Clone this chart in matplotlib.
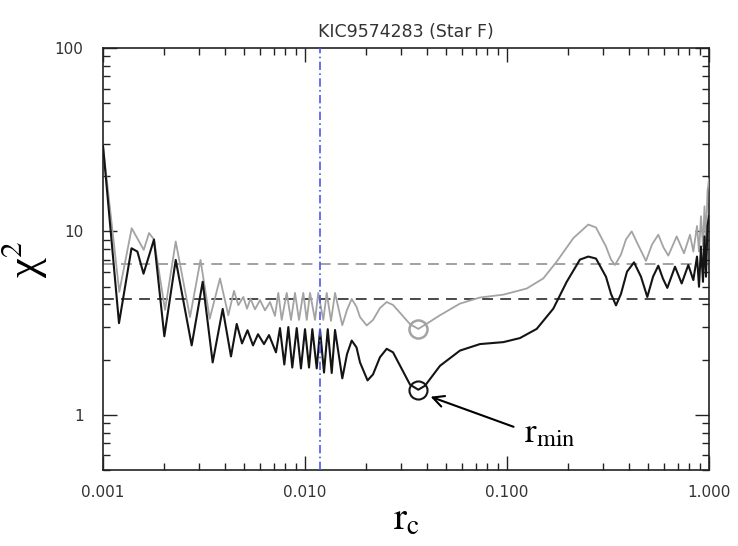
import matplotlib

matplotlib.use("Agg")

import matplotlib.pyplot as plt
import numpy as np
from matplotlib.ticker import FixedLocator, LogLocator, NullFormatter

# ---- values (r_c, chi^2) ----
TITLE = "KIC9574283 (Star F)"

black_r = [
    0.001, 0.00120, 0.001384, 0.00148, 0.001587, 0.001788, 0.002012, 0.002291,
    0.002748, 0.003115, 0.003491, 0.003914, 0.004301, 0.004592, 0.004877,
    0.005192, 0.005529, 0.005853, 0.006266, 0.006634, 0.007183,
    0.007518, 0.00790, 0.00827, 0.00865, 0.00910, 0.00955, 0.01000, 0.01047,
    0.01087, 0.01143, 0.01187, 0.01242, 0.01296, 0.01356, 0.01408, 0.01530,
    0.01614, 0.01703, 0.01799, 0.01872, 0.02040, 0.02171, 0.02350, 0.02538,
    0.02728, 0.0302, 0.03311, 0.03638, 0.03926, 0.04660, 0.05853, 0.07350,
    0.09587, 0.1159, 0.1403, 0.1695, 0.1975, 0.2297, 0.2527, 0.2758,
    0.3090, 0.3273, 0.3464, 0.3666, 0.3927, 0.4254, 0.4606, 0.4950,
    0.5283, 0.5610, 0.5918, 0.6218, 0.6788, 0.7324, 0.7898, 0.8363,
    0.8723, 0.8924, 0.9128, 0.9338, 0.9500, 0.9663, 0.9830, 1.0,
]
black_chi2 = [
    29.3, 3.16, 8.09, 7.76, 5.88, 9.03, 2.68, 6.99,
    2.39, 5.31, 1.93, 3.78, 2.08, 3.13, 2.45,
    2.89, 2.39, 2.75, 2.43, 2.72, 2.19,
    2.97, 1.88, 3.01, 1.81, 2.97, 1.79, 2.93, 1.81,
    2.93, 1.79, 2.90, 1.70, 2.93, 1.69, 2.90, 1.58,
    2.14, 2.54, 2.33, 1.93, 1.54, 1.66, 2.06, 2.29,
    2.19, 1.77, 1.46, 1.37, 1.44, 1.85, 2.24, 2.43,
    2.49, 2.62, 2.94, 3.79, 5.31, 7.02, 7.29, 7.11,
    5.66, 4.56, 3.95, 4.56, 6.03, 6.78, 5.66, 4.39,
    5.66, 6.50, 5.52, 4.92, 6.42, 5.20, 6.56, 5.43,
    7.29, 4.99, 8.27, 5.31, 9.39, 5.66, 10.7, 12.1,
]

gray_r = [
    0.001, 0.001204, 0.001387, 0.001591, 0.001690, 0.001788, 0.002028, 0.002291,
    0.002696, 0.003039, 0.003375, 0.003795, 0.004172, 0.004451, 0.004676,
    0.004950, 0.005163, 0.005373, 0.005655, 0.005987, 0.006339, 0.006711,
    0.007103, 0.007376, 0.007667, 0.008119, 0.008524, 0.008923, 0.009339,
    0.009808, 0.01020, 0.01059, 0.01121, 0.01163, 0.01232, 0.01281, 0.01345,
    0.01408, 0.01530, 0.01614, 0.01703, 0.01799, 0.01872, 0.02021, 0.02171,
    0.02350, 0.02538, 0.02728, 0.0302, 0.03311, 0.03638, 0.03972, 0.04660,
    0.05853, 0.07350, 0.09587, 0.1252, 0.1512, 0.1762, 0.2130, 0.2527,
    0.2758, 0.3090, 0.3273, 0.3425, 0.3666, 0.3882, 0.4143, 0.4450,
    0.4875, 0.5222, 0.5610, 0.5954, 0.6289, 0.6918, 0.7520, 0.8054,
    0.8363, 0.8723, 0.8924, 0.9128, 0.9338, 0.9500, 0.9663, 0.9830, 1.0,
]
gray_chi2 = [
    29.3, 4.68, 10.4, 7.93, 9.79, 9.03, 3.73, 8.81,
    3.41, 6.99, 3.34, 5.54, 3.49, 4.74, 3.96,
    4.39, 3.79, 4.30, 3.76, 4.22, 3.71, 4.12,
    3.46, 4.62, 3.29, 4.62, 3.29, 4.62, 3.29,
    4.62, 3.29, 4.62, 3.29, 4.62, 3.29, 4.62, 3.25,
    4.62, 3.08, 3.73, 4.28, 3.88, 3.41, 3.07, 3.29,
    3.82, 4.12, 3.97, 3.50, 3.12, 2.94, 3.12, 3.49,
    4.04, 4.36, 4.52, 4.88, 5.54, 6.84, 9.19, 10.9,
    10.5, 8.27, 7.02, 6.56, 7.48, 9.04, 10.0, 8.48,
    6.90, 8.48, 9.59, 8.17, 7.38, 9.39, 7.60, 9.59,
    7.76, 10.7, 7.76, 12.1, 8.27, 13.7, 8.81, 16.6, 19.3,
]

gray_level = 6.67     # grey dashed threshold
black_level = 4.28    # black dashed threshold
r_marker = 0.0119     # blue dash-dot line
r_min = 0.0364
min_chi2 = [2.94, 1.37]   # grey, black minima

arrow_tip = (0.0406, 1.27)
arrow_tail = (0.111, 0.85)
label_pos = (0.122, 0.80)

x_ticks = [0.001, 0.01, 0.1, 1.0]
x_tick_labels = ["0.001", "0.010", "0.100", "1.000"]
y_ticks = [1, 10, 100]
y_tick_labels = ["1", "10", "100"]

assert len(black_r) == len(black_chi2)
assert len(gray_r) == len(gray_chi2)

GRAY = "#a3a3a3"
BLACK = "#141414"
BLUE = "#4a58f5"

plt.rcParams.update(
    {
        "font.family": "DejaVu Sans",
        "mathtext.fontset": "stix",
    }
)

fig = plt.figure(figsize=(7.38, 5.46), dpi=100, facecolor="white")
ax = fig.add_axes([103 / 738, 1 - 470 / 546, 606 / 738, 422 / 546])

ax.plot(gray_r, gray_chi2, color=GRAY, lw=1.3, zorder=3)
ax.plot(black_r, black_chi2, color=BLACK, lw=1.5, zorder=4)

ax.axhline(gray_level, color="#9a9a9a", lw=1.3, dashes=(6, 4), zorder=2)
ax.axhline(black_level, color="#3a3a3a", lw=1.3, dashes=(6, 4), zorder=2)
ax.axvline(r_marker, color=BLUE, lw=1.2, dashes=(5, 2, 1, 2), zorder=5)

ax.plot([r_min], [min_chi2[0]], "o", ms=13, mfc="none", mec=GRAY, mew=1.8, zorder=6)
ax.plot([r_min], [min_chi2[1]], "o", ms=13, mfc="none", mec=BLACK, mew=1.5, zorder=6)

ax.annotate(
    "",
    xy=arrow_tip,
    xytext=arrow_tail,
    arrowprops=dict(arrowstyle="->,head_length=0.8,head_width=0.4", lw=1.5, color="black"),
    zorder=7,
)
ax.text(
    label_pos[0], label_pos[1], r"$\mathrm{r}_{\mathrm{min}}$",
    fontsize=25, ha="left", va="center", color="black",
)

ax.set_xscale("log")
ax.set_yscale("log")
ax.set_xlim(0.001, 1.0)
ax.set_ylim(0.5, 100)

ax.xaxis.set_major_locator(FixedLocator(x_ticks))
ax.set_xticklabels(x_tick_labels)
ax.yaxis.set_major_locator(FixedLocator(y_ticks))
ax.set_yticklabels(y_tick_labels)
ax.xaxis.set_minor_locator(LogLocator(base=10, subs=np.arange(2, 10)))
ax.yaxis.set_minor_locator(LogLocator(base=10, subs=np.arange(2, 10)))
ax.xaxis.set_minor_formatter(NullFormatter())
ax.yaxis.set_minor_formatter(NullFormatter())

ax.tick_params(which="both", direction="in", top=True, right=True, width=1.0,
               colors="#222222", labelcolor="#333333", labelsize=11)
ax.tick_params(which="major", length=10)
ax.tick_params(which="minor", length=5)
ax.tick_params(axis="x", pad=11)
ax.tick_params(axis="y", pad=14)

for spine in ax.spines.values():
    spine.set_linewidth(1.2)
    spine.set_color("#222222")

ax.set_title(TITLE, fontsize=12.5, color="#333333", pad=8)
ax.set_xlabel(r"$\mathrm{r}_{\mathrm{c}}$", fontsize=28, labelpad=0)
ax.set_ylabel(r"χ$^{2}$", fontsize=32, fontfamily="Liberation Serif", labelpad=4)

fig.savefig("out.png", dpi=100, facecolor="white")
